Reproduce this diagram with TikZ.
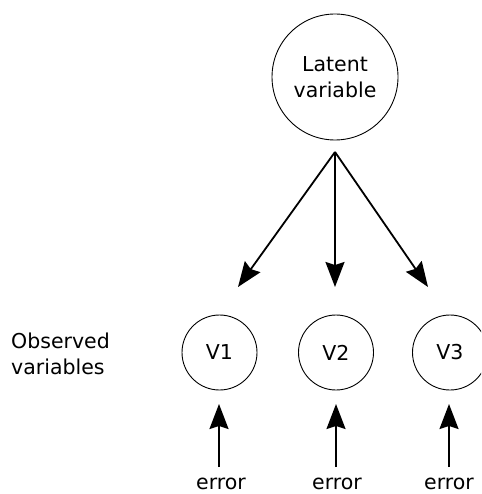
\documentclass[tikz,border=0pt]{standalone}
\usepackage{fontspec}
\setmainfont{DejaVu Sans}
\usetikzlibrary{arrows.meta}
\begin{document}
\begin{tikzpicture}[x=1pt,y=-1pt,
  every node/.style={font=\fontsize{20.5}{26}\selectfont, inner sep=0pt},
  var/.style={circle, draw, line width=0.9pt},
  arr/.style={line width=1.8pt, -{Stealth[length=25pt,width=19pt,inset=3pt]}},
  lbl/.style={align=left}]
\useasboundingbox (0,0) rectangle (481,494);
\begin{scope}
\clip (0,0) rectangle (481,494);
\node[var, minimum size=126pt, align=center] (L) at (335,77) {Latent\\variable};
\node[var, minimum size=75pt] (V1) at (219.5,352.5) {V1};
\node[var, minimum size=75pt] (V2) at (336,352.5) {V2};
\node[var, minimum size=75pt] (V3) at (450,352.5) {V3};
\end{scope}
\coordinate (s) at (335,152);
\coordinate (t1) at (238,287);
\coordinate (t2) at (335,287);
\coordinate (t3) at (428,287);
\draw[arr] (s) -- (t1);
\draw[arr] (s) -- (t2);
\draw[arr] (s) -- (t3);
\node[lbl, anchor=west] (obs) at (11,354) {Observed\\variables};
\node[anchor=base] (e1) at (221,489) {error};
\node[anchor=base] (e2) at (337,489) {error};
\node[anchor=base] (e3) at (449,489) {error};
\coordinate (a1) at (219,404);
\coordinate (a2) at (336,404);
\coordinate (a3) at (449,404);
\coordinate (b1) at (219,467);
\coordinate (b2) at (336,467);
\coordinate (b3) at (449,467);
\draw[arr] (b1) -- (a1);
\draw[arr] (b2) -- (a2);
\draw[arr] (b3) -- (a3);
\end{tikzpicture}
\end{document}
